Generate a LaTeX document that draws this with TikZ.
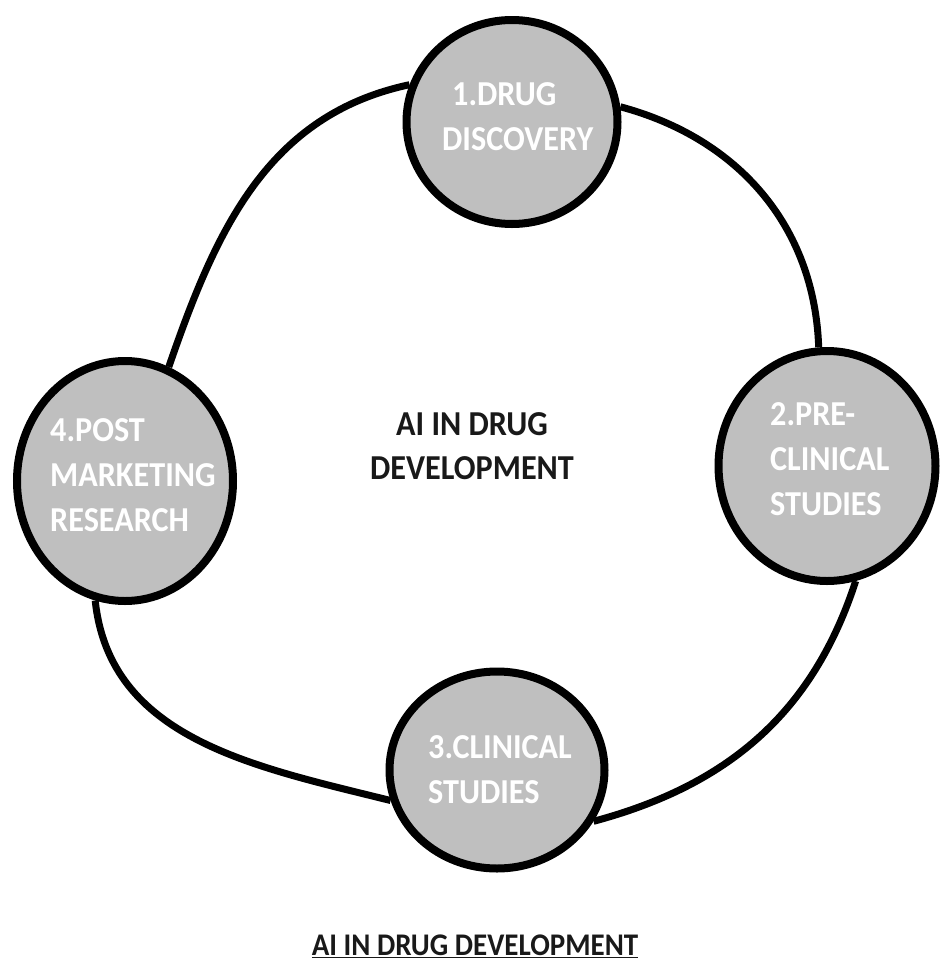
\documentclass[tikz,border=0pt]{standalone}
\usepackage{fontspec}
\newfontfamily\cfont[FakeStretch=0.92]{Carlito}
\usetikzlibrary{shapes.geometric,backgrounds}
\definecolor{stagegray}{RGB}{191,191,191}
\definecolor{inktext}{RGB}{25,25,25}
\tikzset{
  stage/.style={ellipse, draw=black, fill=stagegray, line width=8pt, inner sep=0pt},
  stagetext/.style={anchor=north west, align=left, inner sep=0pt, text=white,
    font=\cfont\bfseries\fontsize{35}{45}\selectfont},
  link/.style={draw=black, line width=7pt},
}
\begin{document}
\begin{tikzpicture}[x=1pt,y=-1pt]
\useasboundingbox (0,0) rectangle (940,962);
% stage ellipses
\node[stage, minimum width=211pt, minimum height=204pt] (c1) at (512,122) {};
\node[stage, minimum width=217pt, minimum height=230pt] (c2) at (827,466) {};
\node[stage, minimum width=215pt, minimum height=197pt] (c3) at (497,770) {};
\node[stage, minimum width=216pt, minimum height=240pt] (c4) at (125,481) {};
% connectors behind the ellipses
\begin{scope}[on background layer]
\draw[link] (c1.160) to[out=192, in=71] (c4.69);
\draw[link] (c1.8) to[out=-15, in=92] (c2.94);
\draw[link] (c2.284) to[out=252, in=15] (c3.332);
\draw[link] (c4.256) to[out=276, in=166] (c3.196);
\end{scope}
% labels
\node[stagetext] (t1) at (442,82) {\hspace{10pt}1.DRUG\\DISCOVERY};
\node[stagetext] (t2) at (770,402) {2.PRE-\\CLINICAL\\STUDIES};
\node[stagetext] (t3) at (428,735) {3.CLINICAL\\STUDIES};
\node[stagetext] (t4) at (50,418) {4.POST\\MARKETING\\RESEARCH};
\node[anchor=north, align=center, inner sep=0pt, text=inktext,
  font=\cfont\bfseries\fontsize{35}{44}\selectfont] (center) at (472,412) {AI IN DRUG\\DEVELOPMENT};
\node[anchor=north, inner sep=0pt, text=inktext,
  font=\cfont\bfseries\fontsize{31.5}{38}\selectfont] (caption) at (475,935) {\underline{AI IN DRUG DEVELOPMENT}};
\end{tikzpicture}
\end{document}
